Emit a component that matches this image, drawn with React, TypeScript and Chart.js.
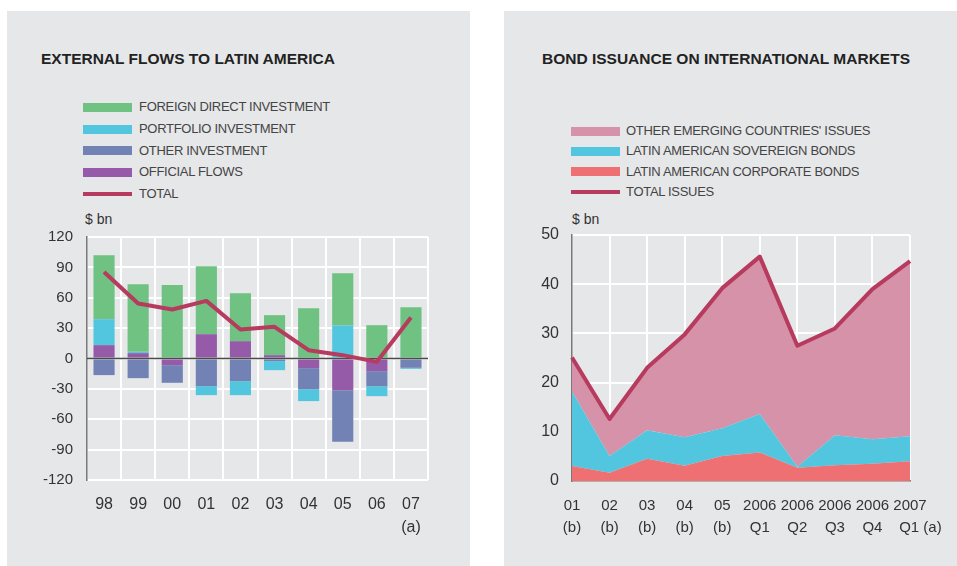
import React, { useEffect, useRef } from 'react';
import { Chart, registerables } from 'chart.js';

Chart.register(...registerables);

const FONT = "'Liberation Sans', Arial, Helvetica, sans-serif";

// ---------- Left chart data ($ bn) ----------
const flowYears = [['98'], ['99'], ['00'], ['01'], ['02'], ['03'], ['04'], ['05'], ['06'], ['07', '(a)']];
const fdi = [63.2, 66.8, 71.5, 67.1, 47.4, 39.5, 49.7, 51.6, 32.9, 50.7];
const portfolio = [25.6, 1.3, 1.0, -8.9, -13.8, -8.9, -11.8, 32.6, -9.9, -1.0];
const otherInvestment = [-16.4, -19.4, -17.4, -27.3, -22.4, -2.6, -20.8, -50.9, -14.8, -9.2];
const officialFlows = [13.2, 5.3, -6.6, 24.0, 17.1, 3.3, -9.5, -31.3, -12.5, 0];
const flowTotal = [85.5, 54.3, 48.4, 56.9, 28.6, 31.3, 8.2, 3.3, -3.3, 40.5];
const flowMin = -120;
const flowMax = 120;
const flowStep = 30;

// ---------- Right chart data ($ bn) ----------
const bondPeriods = [
  ['01', '(b)'], ['02', '(b)'], ['03', '(b)'], ['04', '(b)'], ['05', '(b)'],
  ['2006', 'Q1'], ['2006', 'Q2'], ['2006', 'Q3'], ['2006', 'Q4'], ['2007', '     Q1 (a)'],
];
const corporateBonds = [3.05, 1.7, 4.5, 3.1, 5.1, 5.8, 2.7, 3.2, 3.5, 4.0];
const sovereignBonds = [15.15, 3.4, 5.8, 5.8, 5.6, 7.8, 0.2, 6.1, 5.0, 5.1];
const otherEmerging = [6.9, 7.5, 12.7, 20.9, 28.5, 32.0, 24.6, 21.7, 30.5, 35.6];
const totalIssues = [25.1, 12.6, 23.0, 29.8, 39.2, 45.6, 27.5, 31.0, 39.0, 44.7];
const bondMin = 0;
const bondMax = 50;
const bondStep = 10;

const C = {
  panel: '#e6e7e9',
  green: '#6fc281',
  cyan: '#53c6df',
  slate: '#7282b5',
  purple: '#955ba8',
  total: '#b73a5f',
  pink: '#d692a8',
  red: '#ef7073',
  axis: '#7a7a7a',
  text: '#333333',
  legendText: '#444444',
};

const leftLegend = [
  { label: 'FOREIGN DIRECT INVESTMENT', color: C.green, line: false },
  { label: 'PORTFOLIO INVESTMENT', color: C.cyan, line: false },
  { label: 'OTHER INVESTMENT', color: C.slate, line: false },
  { label: 'OFFICIAL FLOWS', color: C.purple, line: false },
  { label: 'TOTAL', color: C.total, line: true },
];
const rightLegend = [
  { label: "OTHER EMERGING COUNTRIES' ISSUES", color: C.pink, line: false },
  { label: 'LATIN AMERICAN SOVEREIGN BONDS', color: C.cyan, line: false },
  { label: 'LATIN AMERICAN CORPORATE BONDS', color: C.red, line: false },
  { label: 'TOTAL ISSUES', color: C.total, line: true },
];

function Legend({ items, x, y0, rowH, swatchW, textX }: any) {
  return (
    <>
      {items.map((it: any, i: number) => (
        <div
          key={it.label}
          style={{
            position: 'absolute',
            left: x,
            top: y0 + i * rowH - 10,
            height: 20,
            display: 'flex',
            alignItems: 'center',
            whiteSpace: 'nowrap',
          }}
        >
          <div style={{ width: swatchW, height: it.line ? 4 : 9, background: it.color }} />
          <div
            style={{
              marginLeft: textX - x - swatchW,
              fontFamily: FONT,
              fontSize: 13,
              letterSpacing: '-0.3px',
              color: C.legendText,
              lineHeight: '20px',
            }}
          >
            {it.label}
          </div>
        </div>
      ))}
    </>
  );
}

function FlowsChart() {
  const ref = useRef<HTMLCanvasElement>(null);
  useEffect(() => {
    const zeroLine = {
      id: 'zeroLine',
      beforeDatasetDraw(chart: any, args: any) {
        if (args.index !== 0) return;
        const y = chart.scales.y.getPixelForValue(0);
        const { left, right } = chart.chartArea;
        const ctx = chart.ctx;
        ctx.save();
        ctx.strokeStyle = '#4a4a4a';
        ctx.lineWidth = 1.5;
        ctx.beginPath();
        ctx.moveTo(left, y);
        ctx.lineTo(right, y);
        ctx.stroke();
        ctx.restore();
      },
    };
    const chart = new Chart(ref.current as HTMLCanvasElement, {
      type: 'bar',
      data: {
        labels: flowYears as any,
        datasets: [
          {
            type: 'line',
            label: 'TOTAL',
            data: flowTotal,
            borderColor: C.total,
            backgroundColor: C.total,
            borderWidth: 4,
            pointRadius: 0,
            fill: false,
            stack: 'line',
            borderJoinStyle: 'round',
          } as any,
          { label: 'OFFICIAL FLOWS', data: officialFlows, backgroundColor: C.purple, stack: 'bars' },
          { label: 'OTHER INVESTMENT', data: otherInvestment, backgroundColor: C.slate, stack: 'bars' },
          { label: 'PORTFOLIO INVESTMENT', data: portfolio, backgroundColor: C.cyan, stack: 'bars' },
          { label: 'FOREIGN DIRECT INVESTMENT', data: fdi, backgroundColor: C.green, stack: 'bars' },
        ],
      },
      options: {
        animation: false,
        responsive: false,
        layout: { padding: { left: 0, top: 12, right: 42, bottom: 0 } },
        plugins: { legend: { display: false }, tooltip: { enabled: false } },
        datasets: { bar: { barPercentage: 0.62, categoryPercentage: 1 } } as any,
        scales: {
          x: {
            stacked: true,
            grid: {
              offset: true,
              color: (ctx: any) => (ctx.index === 0 ? 'rgba(0,0,0,0)' : '#ffffff'),
              lineWidth: 2,
              drawTicks: false,
            },
            border: { display: false },
            ticks: {
              color: C.text,
              font: { family: FONT, size: 16, lineHeight: 1.44 },
              padding: 13.5,
              maxRotation: 0,
              autoSkip: false,
            },
            afterFit: (s: any) => {
              s.height = 86;
            },
          },
          y: {
            stacked: true,
            min: flowMin,
            max: flowMax,
            grid: { color: '#ffffff', lineWidth: 2, drawTicks: false },
            border: { color: C.axis, width: 1.5 },
            ticks: {
              stepSize: flowStep,
              color: C.text,
              font: { family: FONT, size: 15 },
              padding: 14,
            },
            afterFit: (s: any) => {
              s.width = 80;
              s.paddingTop = 0;
              s.paddingBottom = 0;
            },
          },
        },
      },
      plugins: [zeroLine],
    });
    return () => chart.destroy();
  }, []);
  return (
    <canvas
      ref={ref}
      width={463}
      height={341}
      style={{ position: 'absolute', left: 7, top: 225, width: 463, height: 341 }}
    />
  );
}

function BondChart() {
  const ref = useRef<HTMLCanvasElement>(null);
  useEffect(() => {
    const area = (label: string, data: number[], color: string, fill: any) => ({
      label,
      data,
      backgroundColor: color,
      borderColor: 'rgba(0,0,0,0)',
      borderWidth: 0,
      pointRadius: 0,
      fill,
    });
    const chart = new Chart(ref.current as HTMLCanvasElement, {
      type: 'line',
      data: {
        labels: bondPeriods as any,
        datasets: [
          {
            label: 'TOTAL ISSUES',
            data: totalIssues,
            borderColor: C.total,
            backgroundColor: C.total,
            borderWidth: 4,
            pointRadius: 0,
            fill: false,
            stack: 'total',
            borderJoinStyle: 'round',
          } as any,
          area('LATIN AMERICAN CORPORATE BONDS', corporateBonds, C.red, 'origin'),
          area('LATIN AMERICAN SOVEREIGN BONDS', sovereignBonds, C.cyan, '-1'),
          area("OTHER EMERGING COUNTRIES' ISSUES", otherEmerging, C.pink, '-1'),
        ],
      },
      options: {
        animation: false,
        responsive: false,
        layout: { padding: { left: 0, top: 10, right: 47, bottom: 0 } },
        plugins: { legend: { display: false }, tooltip: { enabled: false } },
        scales: {
          x: {
            grid: {
              color: (ctx: any) => (ctx.index === 0 ? 'rgba(0,0,0,0)' : '#ffffff'),
              lineWidth: 2,
              drawTicks: false,
            },
            border: { color: C.axis, width: 1.5 },
            ticks: {
              color: C.text,
              font: { family: FONT, size: 15, lineHeight: 1.49 },
              padding: 13.5,
              maxRotation: 0,
              autoSkip: false,
            },
            afterFit: (s: any) => {
              s.height = 85;
            },
          },
          y: {
            stacked: true,
            min: bondMin,
            max: bondMax,
            grid: {
              color: (ctx: any) => (ctx.tick && ctx.tick.value === 0 ? 'rgba(0,0,0,0)' : '#ffffff'),
              lineWidth: 2,
              drawTicks: false,
            },
            border: { color: C.axis, width: 1.5 },
            ticks: {
              stepSize: bondStep,
              color: C.text,
              font: { family: FONT, size: 16 },
              padding: 13,
            },
            afterFit: (s: any) => {
              s.width = 68;
              s.paddingTop = 0;
              s.paddingBottom = 0;
            },
          },
        },
      },
    });
    return () => chart.destroy();
  }, []);
  return (
    <canvas
      ref={ref}
      width={453}
      height={341}
      style={{ position: 'absolute', left: 504, top: 225, width: 453, height: 341 }}
    />
  );
}

const titleStyle: any = {
  position: 'absolute',
  top: 49,
  fontFamily: FONT,
  fontWeight: 'bold',
  fontSize: 15.5,
  lineHeight: '20px',
  color: '#222',
  whiteSpace: 'nowrap',
};
const unitStyle: any = {
  position: 'absolute',
  fontFamily: FONT,
  fontSize: 14,
  lineHeight: '20px',
  color: C.text,
};

export default function App() {
  return (
    <div style={{ position: 'fixed', left: 0, top: 0, width: 957, height: 566, background: '#ffffff', overflow: 'hidden' }}>
      <div style={{ position: 'absolute', left: 7, top: 11, width: 463, height: 555, background: C.panel }} />
      <div style={{ position: 'absolute', left: 504, top: 11, width: 453, height: 555, background: C.panel }} />

      <div style={{ ...titleStyle, left: 41 }}>EXTERNAL FLOWS TO LATIN AMERICA</div>
      <div style={{ ...titleStyle, left: 542 }}>BOND ISSUANCE ON INTERNATIONAL MARKETS</div>

      <Legend items={leftLegend} x={83} y0={107.3} rowH={21.7} swatchW={49} textX={139} />
      <Legend items={rightLegend} x={571} y0={131} rowH={20.4} swatchW={49} textX={626} />

      <div style={{ ...unitStyle, left: 85, top: 209 }}>$ bn</div>
      <div style={{ ...unitStyle, left: 572, top: 209 }}>$ bn</div>

      <FlowsChart />
      <BondChart />
    </div>
  );
}
